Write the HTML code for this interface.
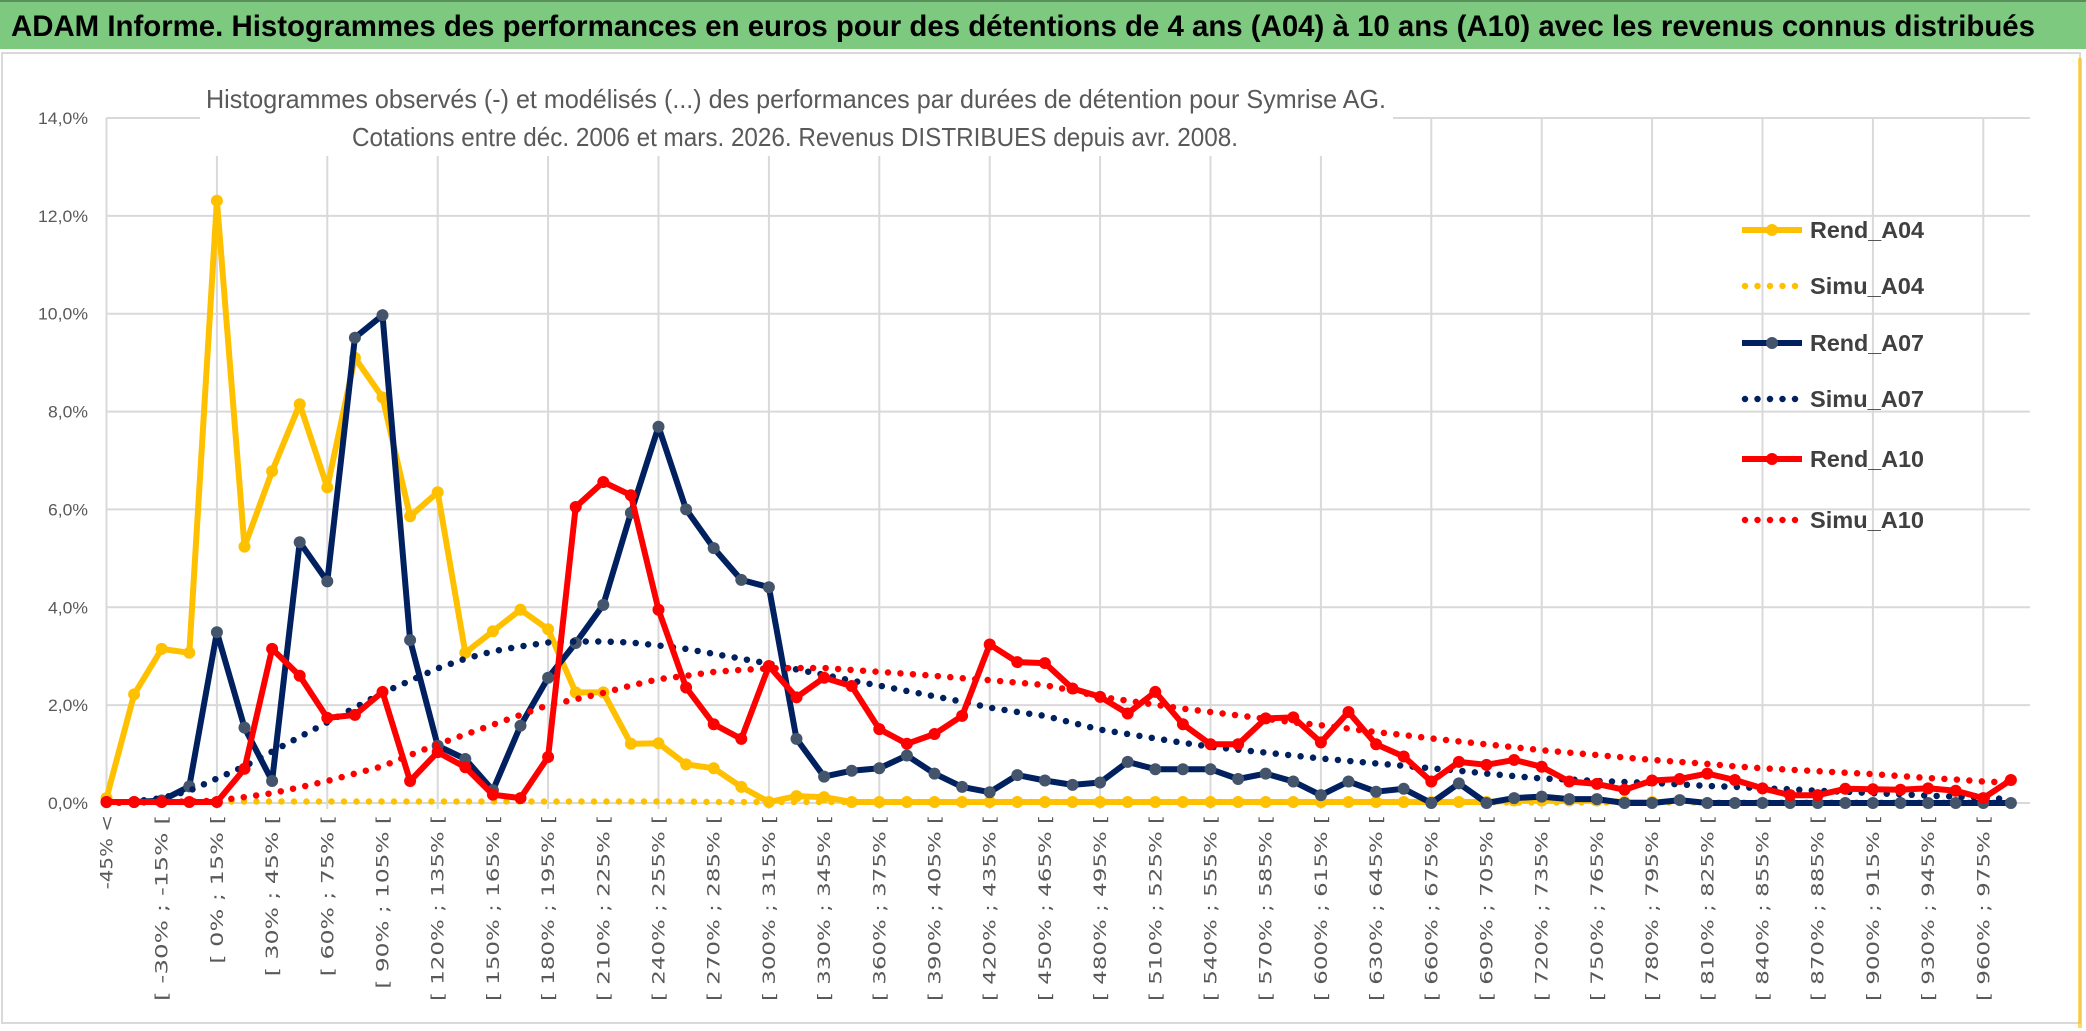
<!DOCTYPE html>
<html><head><meta charset="utf-8"><style>
html,body{margin:0;padding:0;background:#fff;}
svg{display:block;font-family:"Liberation Sans",sans-serif;}
</style></head><body>
<svg id="chart" width="2086" height="1031" viewBox="0 0 2086 1031" xmlns="http://www.w3.org/2000/svg">
<rect x="0" y="0" width="2086" height="1031" fill="#ffffff"/>
<rect x="0" y="0" width="2086" height="49" fill="#7DC97F"/>
<rect x="0" y="0" width="2086" height="2" fill="#5a8f5c"/>
<text x="11" y="36" font-size="30" font-weight="bold" fill="#000" textLength="2024" lengthAdjust="spacingAndGlyphs">ADAM Informe. Histogrammes des performances en euros pour des détentions de 4 ans (A04) à 10 ans (A10) avec les revenus connus distribués</text>
<rect x="2" y="53" width="2078" height="970" fill="#fff" stroke="#d9d9d9" stroke-width="2"/>
<rect x="2078" y="58" width="4" height="970" fill="#FFC000" opacity="0.6"/>
<g id="grid"></g>
<rect x="200" y="80" width="1193" height="76" fill="#fff"/>
<text x="206" y="108" font-size="26" fill="#595959" textLength="1180" lengthAdjust="spacingAndGlyphs">Histogrammes observés (-) et modélisés (...) des performances par durées de détention pour Symrise AG.</text>
<text x="352" y="146" font-size="26" fill="#595959" textLength="886" lengthAdjust="spacingAndGlyphs">Cotations entre déc. 2006 et mars. 2026. Revenus DISTRIBUES depuis avr. 2008.</text>
<g id="ylabels"></g>
<g id="xlabels"></g>
<g id="series"></g>
<g id="legend"></g>
</svg>
<script>
// ---- data ----
const rendA04 = [0.1,2.22,3.15,3.07,12.31,5.24,6.78,8.15,6.45,9.1,8.29,5.86,6.35,3.07,3.51,3.95,3.55,2.26,2.26,1.21,1.22,0.79,0.71,0.33,0.02,0.14,0.12,0.02,0.02,0.02,0.02,0.02,0.02,0.02,0.02,0.02,0.02,0.02,0.02,0.02,0.02,0.02,0.02,0.02,0.02,0.02,0.02,0.02,0.02,0.02,0.02,0.05,0.05,0.05,0.05,0.02,0.02,null,null,null,null,null,null,null,null,null,null,null,null,null];
const simuA04 = [0.01,0.01,0.02,0.02,0.03,0.03,0.03,0.03,0.03,0.03,0.03,0.03,0.03,0.03,0.03,0.03,0.03,0.03,0.03,0.03,0.03,0.03,0.02,0.02,0.02,0.02,0.02,0.02,0.02,0.02,0.02,0.02,0.02,0.02,0.02,0.02,0.02,0.02,0.02,0.02,0.02,0.02,0.02,0.02,0.02,0.02,0.02,0.02,0.02,0.02,0.02,0.01,0.01,0.01,0.01,0.01,0.01,0.01,0.01,0.01,0.01,0.01,0.01,0.01,0.01,0.01,0.01,0.01,0.01,0.01];
const rendA07 = [0.02,0.02,0.05,0.34,3.49,1.54,0.45,5.33,4.53,9.51,9.97,3.33,1.17,0.9,0.26,1.58,2.56,3.27,4.05,5.93,7.69,6.0,5.21,4.56,4.41,1.31,0.54,0.66,0.71,0.97,0.6,0.33,0.22,0.57,0.46,0.37,0.42,0.84,0.69,0.69,0.69,0.49,0.6,0.44,0.16,0.44,0.23,0.29,0,0.4,0,0.1,0.13,0.08,0.08,0,0,0.06,0,0,0,0,0,0,0,0,0,0,0,0];
const simuA07 = [0,0.03,0.1,0.25,0.5,0.75,1.05,1.35,1.65,1.95,2.25,2.5,2.75,2.95,3.1,3.2,3.28,3.3,3.3,3.28,3.22,3.15,3.05,2.95,2.85,2.73,2.62,2.5,2.4,2.29,2.18,2.07,1.95,1.86,1.78,1.64,1.5,1.41,1.32,1.23,1.15,1.09,1.03,0.97,0.91,0.86,0.81,0.76,0.71,0.66,0.6,0.55,0.5,0.48,0.45,0.43,0.41,0.38,0.35,0.33,0.3,0.28,0.25,0.23,0.2,0.18,0.15,0.13,0.1,0.08];
const rendA10 = [0.02,0.02,0.02,0.02,0.02,0.7,3.15,2.6,1.74,1.8,2.27,0.45,1.04,0.73,0.17,0.1,0.94,6.05,6.56,6.29,3.95,2.36,1.61,1.31,2.8,2.16,2.56,2.39,1.51,1.21,1.41,1.78,3.24,2.88,2.86,2.34,2.17,1.83,2.27,1.61,1.2,1.2,1.73,1.75,1.24,1.86,1.2,0.95,0.44,0.84,0.78,0.88,0.74,0.44,0.39,0.27,0.46,0.49,0.6,0.47,0.3,0.16,0.16,0.29,0.28,0.27,0.3,0.25,0.1,0.47];
const simuA10 = [0,0.01,0.02,0.03,0.05,0.12,0.2,0.32,0.45,0.6,0.75,0.98,1.2,1.4,1.6,1.8,2.0,2.12,2.25,2.4,2.53,2.6,2.68,2.72,2.75,2.76,2.76,2.72,2.68,2.64,2.6,2.55,2.51,2.46,2.41,2.3,2.17,2.09,2.01,1.93,1.86,1.79,1.72,1.65,1.59,1.52,1.45,1.39,1.32,1.26,1.2,1.14,1.08,1.03,0.98,0.93,0.88,0.84,0.8,0.75,0.71,0.68,0.65,0.62,0.59,0.55,0.51,0.48,0.44,0.42];
const yTicks = [0,2,4,6,8,10,12,14];
const yTickLabels = ["0,0%","2,0%","4,0%","6,0%","8,0%","10,0%","12,0%","14,0%"];
const categories = ["-45% <"];
for (let v = -45; v < 990; v += 15) categories.push("[ " + v + "% ; " + (v + 15) + "% [");
categories.length = 70;

// ---- axes ----
const NS = "http://www.w3.org/2000/svg";
const X0 = 106.5, DX = 27.6, YB = 803, YT = 118, YMAX = 14;
const xPos = i => X0 + i * DX;
const yPos = v => YB - v / YMAX * (YB - YT);
const mk = (tag, attrs, parent) => { const e = document.createElementNS(NS, tag); for (const k in attrs) e.setAttribute(k, attrs[k]); parent.appendChild(e); return e; };

const grid = document.getElementById("grid");
yTicks.forEach(t => {
  const l = mk("line", {x1: X0, x2: 2030, y1: yPos(t), y2: yPos(t), stroke: "#d9d9d9", "stroke-width": 2}, grid);
  
  
});
for (let i = 0; i < categories.length; i += 4) {
  const l = mk("line", {x1: xPos(i), x2: xPos(i), y1: YT, y2: YB + 6, stroke: "#d9d9d9", "stroke-width": 2}, grid);
  
  
}
const yl = document.getElementById("ylabels");
yTicks.forEach((t, k) => {
  const s = yTickLabels[k];
  const tx = mk("text", {x: 88, y: yPos(t) + 6, "font-size": 17, fill: "#595959", "text-anchor": "end", textLength: s.length * 10, lengthAdjust: "spacingAndGlyphs"}, yl);
  tx.textContent = s;
  
  
});
const xl = document.getElementById("xlabels");
categories.forEach((c, i) => {
  if (i % 2) return;
  const x = xPos(i) + 6, y = 815;
  const tx = mk("text", {x: x, y: y, "font-size": 17, fill: "#595959", "text-anchor": "end", transform: `rotate(-90 ${x} ${y})`, textLength: c.length * 12.4, lengthAdjust: "spacingAndGlyphs", "font-family": "DejaVu Sans, sans-serif"}, xl);
  tx.textContent = c;
  
  
});

// ---- series ----
const sg = document.getElementById("series");
function pathFor(arr) {
  let d = "", pen = false;
  arr.forEach((v, i) => { if (v === null) { pen = false; return; } d += (pen ? "L" : "M") + xPos(i).toFixed(1) + "," + yPos(v).toFixed(1); pen = true; });
  return d;
}
function drawRend(arr, color, mcolor, name) {
  const g = mk("g", {}, sg);
  
  
  mk("path", {d: pathFor(arr), fill: "none", stroke: color, "stroke-width": 6, "stroke-linejoin": "round"}, g);
  arr.forEach((v, i) => {
    if (v === null) return;
    const c = mk("circle", {cx: xPos(i), cy: yPos(v), r: 6, fill: mcolor}, g);
    
    
  });
}
function drawSimu(arr, color, name) {
  const p = mk("path", {d: pathFor(arr), fill: "none", stroke: color, "stroke-width": 6.5, "stroke-linecap": "round", "stroke-dasharray": "0 12.5"}, sg);
  
  
}
drawRend(rendA04, "#FFC000", "#FFC000", "rend-a04-line");
drawSimu(simuA04, "#FFC000", "simu-a04-line");
drawRend(rendA07, "#002060", "#44546A", "rend-a07-line");
drawSimu(simuA07, "#002060", "simu-a07-line");
drawRend(rendA10, "#FF0000", "#FF0000", "rend-a10-line");
drawSimu(simuA10, "#FF0000", "simu-a10-line");

// ---- legend ----
const lg = document.getElementById("legend");
const legendNames = ["Rend_A04","Simu_A04","Rend_A07","Simu_A07","Rend_A10","Simu_A10"];
const legendColors = ["#FFC000","#FFC000","#002060","#002060","#FF0000","#FF0000"];
const legendMarkers = ["#FFC000",null,"#44546A",null,"#FF0000",null];
const legendY = [230,286,343,399,459,520];
legendNames.forEach((n, k) => {
  const g = mk("g", {}, lg);
  
  
  const y = legendY[k];
  if (legendMarkers[k]) {
    mk("line", {x1: 1742, x2: 1802, y1: y, y2: y, stroke: legendColors[k], "stroke-width": 6}, g);
    mk("circle", {cx: 1772, cy: y, r: 6, fill: legendMarkers[k]}, g);
  } else {
    mk("line", {x1: 1745, x2: 1802, y1: y, y2: y, stroke: legendColors[k], "stroke-width": 6.5, "stroke-linecap": "round", "stroke-dasharray": "0 12.5"}, g);
  }
  const t = mk("text", {x: 1810, y: y + 8, "font-size": 23, "font-weight": "bold", fill: "#404040", textLength: 114, lengthAdjust: "spacingAndGlyphs"}, g);
  t.textContent = n;
});
</script>
</body></html>
